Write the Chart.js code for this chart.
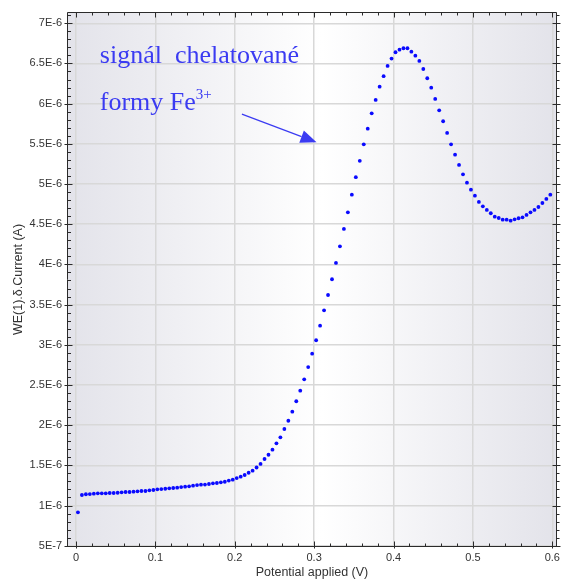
<!DOCTYPE html>
<html>
<head>
<meta charset="utf-8">
<script src="https://cdn.jsdelivr.net/npm/chart.js@4.4.1/dist/chart.umd.min.js"></script>
<style>
  html, body { margin: 0; padding: 0; background: #fff; }
</style>
</head>
<body>
<canvas id="dpv" width="564" height="581"></canvas>
<script>
// potential applied (V)
const potentials = [
  0.0025, 0.0075, 0.0125, 0.0175, 0.0225, 0.0275, 0.0325, 0.0375, 0.0425, 0.0475,
  0.0525, 0.0575, 0.0625, 0.0675, 0.0725, 0.0775, 0.0825, 0.0875, 0.0925, 0.0975,
  0.1025, 0.1075, 0.1125, 0.1175, 0.1225, 0.1275, 0.1325, 0.1375, 0.1425, 0.1475,
  0.1525, 0.1575, 0.1625, 0.1675, 0.1725, 0.1775, 0.1825, 0.1875, 0.1925, 0.1975,
  0.2025, 0.2075, 0.2125, 0.2175, 0.2225, 0.2275, 0.2325, 0.2375, 0.2425, 0.2475,
  0.2525, 0.2575, 0.2625, 0.2675, 0.2725, 0.2775, 0.2825, 0.2875, 0.2925, 0.2975,
  0.3025, 0.3075, 0.3125, 0.3175, 0.3225, 0.3275, 0.3325, 0.3375, 0.3425, 0.3475,
  0.3525, 0.3575, 0.3625, 0.3675, 0.3725, 0.3775, 0.3825, 0.3875, 0.3925, 0.3975,
  0.4025, 0.4075, 0.4125, 0.4175, 0.4225, 0.4275, 0.4325, 0.4375, 0.4425, 0.4475,
  0.4525, 0.4575, 0.4625, 0.4675, 0.4725, 0.4775, 0.4825, 0.4875, 0.4925, 0.4975,
  0.5025, 0.5075, 0.5125, 0.5175, 0.5225, 0.5275, 0.5325, 0.5375, 0.5425, 0.5475,
  0.5525, 0.5575, 0.5625, 0.5675, 0.5725, 0.5775, 0.5825, 0.5875, 0.5925, 0.5975
]
// WE(1).δ.Current in µA (axis labels show it in A)
const currentMicroA = [
  0.916, 1.131, 1.140, 1.143, 1.147, 1.152, 1.152, 1.152, 1.156, 1.156,
  1.159, 1.164, 1.168, 1.168, 1.172, 1.177, 1.181, 1.181, 1.189, 1.193,
  1.202, 1.205, 1.209, 1.214, 1.218, 1.222, 1.230, 1.234, 1.239, 1.247,
  1.255, 1.259, 1.261, 1.268, 1.276, 1.280, 1.289, 1.296, 1.311, 1.321,
  1.342, 1.359, 1.380, 1.408, 1.433, 1.473, 1.517, 1.579, 1.632, 1.695,
  1.774, 1.849, 1.952, 2.055, 2.167, 2.297, 2.429, 2.570, 2.723, 2.889,
  3.056, 3.237, 3.429, 3.619, 3.815, 4.018, 4.225, 4.441, 4.648, 4.867,
  5.085, 5.289, 5.494, 5.689, 5.880, 6.046, 6.211, 6.341, 6.469, 6.560,
  6.639, 6.671, 6.689, 6.689, 6.647, 6.597, 6.531, 6.431, 6.316, 6.199,
  6.058, 5.917, 5.781, 5.635, 5.494, 5.365, 5.237, 5.121, 5.017, 4.930,
  4.855, 4.777, 4.723, 4.677, 4.636, 4.594, 4.577, 4.556, 4.556, 4.544,
  4.561, 4.574, 4.586, 4.615, 4.648, 4.677, 4.714, 4.764, 4.814, 4.867
]
const xTicks = [0, 0.1, 0.2, 0.3, 0.4, 0.5, 0.6]
const xTickLabels = ['0', '0.1', '0.2', '0.3', '0.4', '0.5', '0.6']
const yTicks = [0.5, 1, 1.5, 2, 2.5, 3, 3.5, 4, 4.5, 5, 5.5, 6, 6.5, 7]
const yTickLabels = ['5E-7', '1E-6', '1.5E-6', '2E-6', '2.5E-6', '3E-6', '3.5E-6',
  '4E-6', '4.5E-6', '5E-6', '5.5E-6', '6E-6', '6.5E-6', '7E-6']

const points = potentials.map((p, i) => ({ x: p, y: currentMicroA[i] }))

const inkBlue = '#3b3bf2'
const axisInk = '#2b2b2b'

const backdrop = {
  id: 'backdrop',
  beforeDraw (chart) {
    const { ctx, chartArea: a } = chart
    ctx.save()
    ctx.fillStyle = '#fff'
    ctx.fillRect(0, 0, chart.width, chart.height)
    const g = ctx.createLinearGradient(a.left, 0, a.right, 0)
    g.addColorStop(0, '#e3e3ea')
    g.addColorStop(0.52, '#ffffff')
    g.addColorStop(1, '#e3e3ea')
    ctx.fillStyle = g
    ctx.fillRect(a.left, a.top, a.right - a.left, a.bottom - a.top)
    ctx.restore()
  }
}

const frame = {
  id: 'frame',
  afterDatasetsDraw (chart) {
    const { ctx, chartArea: a, scales } = chart
    const xs = scales.x
    const ys = scales.y
    const L = Math.round(a.left) + 0.5
    const R = Math.round(a.right) - 0.5
    const T = Math.round(a.top) + 0.5
    const B = Math.round(a.bottom) - 0.5
    ctx.save()
    ctx.strokeStyle = axisInk
    ctx.lineWidth = 1
    ctx.beginPath()
    ctx.rect(L, T, R - L, B - T)
    // y ticks, every 0.1 µA
    for (let i = 5; i <= 71; i++) {
      const y = Math.round(ys.getPixelForValue(i / 10)) + 0.5
      if (y < T || y > B) continue
      const major = i % 5 === 0
      ctx.moveTo(major ? L - 3 : L, y); ctx.lineTo(major ? L + 5 : L + 3.5, y)
      ctx.moveTo(major ? R - 4 : R, y); ctx.lineTo(major ? R + 4 : R + 3, y)
    }
    // x ticks, every 0.02 V
    for (let i = 0; i <= 30; i++) {
      const x = Math.round(xs.getPixelForValue(i / 50)) + 0.5
      if (x < L || x > R) continue
      const major = i % 5 === 0
      ctx.moveTo(x, major ? B + 2 : B); ctx.lineTo(x, major ? B - 5 : B - 3)
      ctx.moveTo(x, T); ctx.lineTo(x, major ? T + 5 : T + 3)
    }
    ctx.stroke()
    ctx.restore()
  }
}

const note = {
  id: 'note',
  afterDatasetsDraw (chart) {
    const { ctx, scales } = chart
    const px = v => scales.x.getPixelForValue(v)
    const py = v => scales.y.getPixelForValue(v)
    ctx.save()
    ctx.fillStyle = inkBlue
    ctx.strokeStyle = inkBlue
    ctx.textBaseline = 'alphabetic'
    ctx.font = '26px "Liberation Serif", serif'
    ctx.fillText('signál  chelatované', px(0.030), py(6.50))
    ctx.fillText('formy Fe', px(0.030), py(5.92))
    const w = ctx.measureText('formy Fe').width
    ctx.font = '15px "Liberation Serif", serif'
    ctx.fillText('3+', px(0.030) + w, py(6.06))

    const x0 = px(0.209), y0 = py(5.87)
    const x1 = px(0.303), y1 = py(5.52)
    const len = Math.hypot(x1 - x0, y1 - y0)
    const ux = (x1 - x0) / len, uy = (y1 - y0) / len
    const bx = x1 - ux * 16, by = y1 - uy * 16
    ctx.lineWidth = 1.2
    ctx.beginPath()
    ctx.moveTo(x0, y0); ctx.lineTo(bx, by)
    ctx.stroke()
    ctx.beginPath()
    ctx.moveTo(x1, y1)
    ctx.lineTo(bx - uy * 6.5, by + ux * 6.5)
    ctx.lineTo(bx + uy * 6.5, by - ux * 6.5)
    ctx.closePath()
    ctx.fill()
    ctx.restore()
  }
}

new Chart(document.getElementById('dpv'), {
  type: 'scatter',
  data: {
    datasets: [{
      data: points,
      showLine: false,
      pointRadius: 1.9,
      pointBorderWidth: 0,
      pointBackgroundColor: '#0a0aff',
      pointBorderColor: '#0a0aff'
    }]
  },
  options: {
    responsive: false,
    animation: false,
    devicePixelRatio: 1,
    layout: { padding: { top: 12, right: 4, left: 0, bottom: 0 } },
    plugins: { legend: { display: false }, tooltip: { enabled: false } },
    scales: {
      x: {
        type: 'linear',
        min: -0.0113,
        max: 0.6058,
        afterBuildTicks: s => { s.ticks = xTicks.map(v => ({ value: v })) },
        afterFit: s => { s.height = 34 },
        ticks: {
          padding: 4,
          color: '#333',
          font: { family: 'Liberation Sans', size: 11 },
          callback: (v, i) => xTickLabels[i]
        },
        grid: { color: '#d8d8d8', lineWidth: 1.5, drawTicks: false },
        border: { display: false },
        title: {
          display: true,
          text: 'Potential applied (V)',
          color: '#333',
          font: { family: 'Liberation Sans', size: 12.5 },
          padding: { top: 2, bottom: 0.5 }
        }
      },
      y: {
        type: 'linear',
        min: 0.484,
        max: 7.14,
        afterBuildTicks: s => { s.ticks = yTicks.map(v => ({ value: v })) },
        afterFit: s => { s.width = 67 },
        ticks: {
          padding: 5,
          color: '#333',
          font: { family: 'Liberation Sans', size: 11 },
          callback: (v, i) => yTickLabels[i]
        },
        grid: { color: '#d8d8d8', lineWidth: 1.5, drawTicks: false },
        border: { display: false },
        title: {
          display: true,
          text: 'WE(1).δ.Current (A)',
          color: '#333',
          font: { family: 'Liberation Sans', size: 12.5 },
          padding: { top: 11, bottom: 0 }
        }
      }
    }
  },
  plugins: [backdrop, frame, note]
})
</script>
</body>
</html>
